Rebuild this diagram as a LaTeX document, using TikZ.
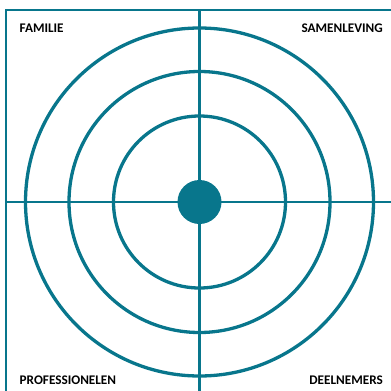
\documentclass[tikz,border=0pt]{standalone}
\usepackage{fontspec}
\setmainfont{Carlito}[BoldFont={Carlito Bold}]
\definecolor{teal1}{RGB}{8,118,140}
\begin{document}
\begin{tikzpicture}[x=1pt,y=-1pt,
  ring/.style={draw=teal1,line width=3.3pt},
  axis/.style={draw=teal1,line width=2.8pt},
  lbl/.style={font=\bfseries\fontsize{13.2}{15}\selectfont,text=black,inner sep=0pt}]
\useasboundingbox (0,0) rectangle (391,391);
\begin{scope}
\clip (0,0) rectangle (391,391);
\draw[axis] (6,400) -- (6,10) -- (400,10);
\coordinate (c) at (199.5,202);
\draw[axis] (199.5,10) -- (199.5,400);
\draw[axis] (6,202) -- (400,202);
\draw[ring] (c) circle (174);
\draw[ring] (c) circle (130.5);
\draw[ring] (c) circle (86);
\fill[teal1] (c) circle (22);
\end{scope}
\node[lbl,anchor=west] (fam) at (19.5,28.5) {FAMILIE};
\node[lbl,anchor=east] (sam) at (383,28.5) {SAMENLEVING};
\node[lbl,anchor=west] (pro) at (19.5,380) {PROFESSIONELEN};
\node[lbl,anchor=east] (dee) at (383,380) {DEELNEMERS};
\end{tikzpicture}
\end{document}
